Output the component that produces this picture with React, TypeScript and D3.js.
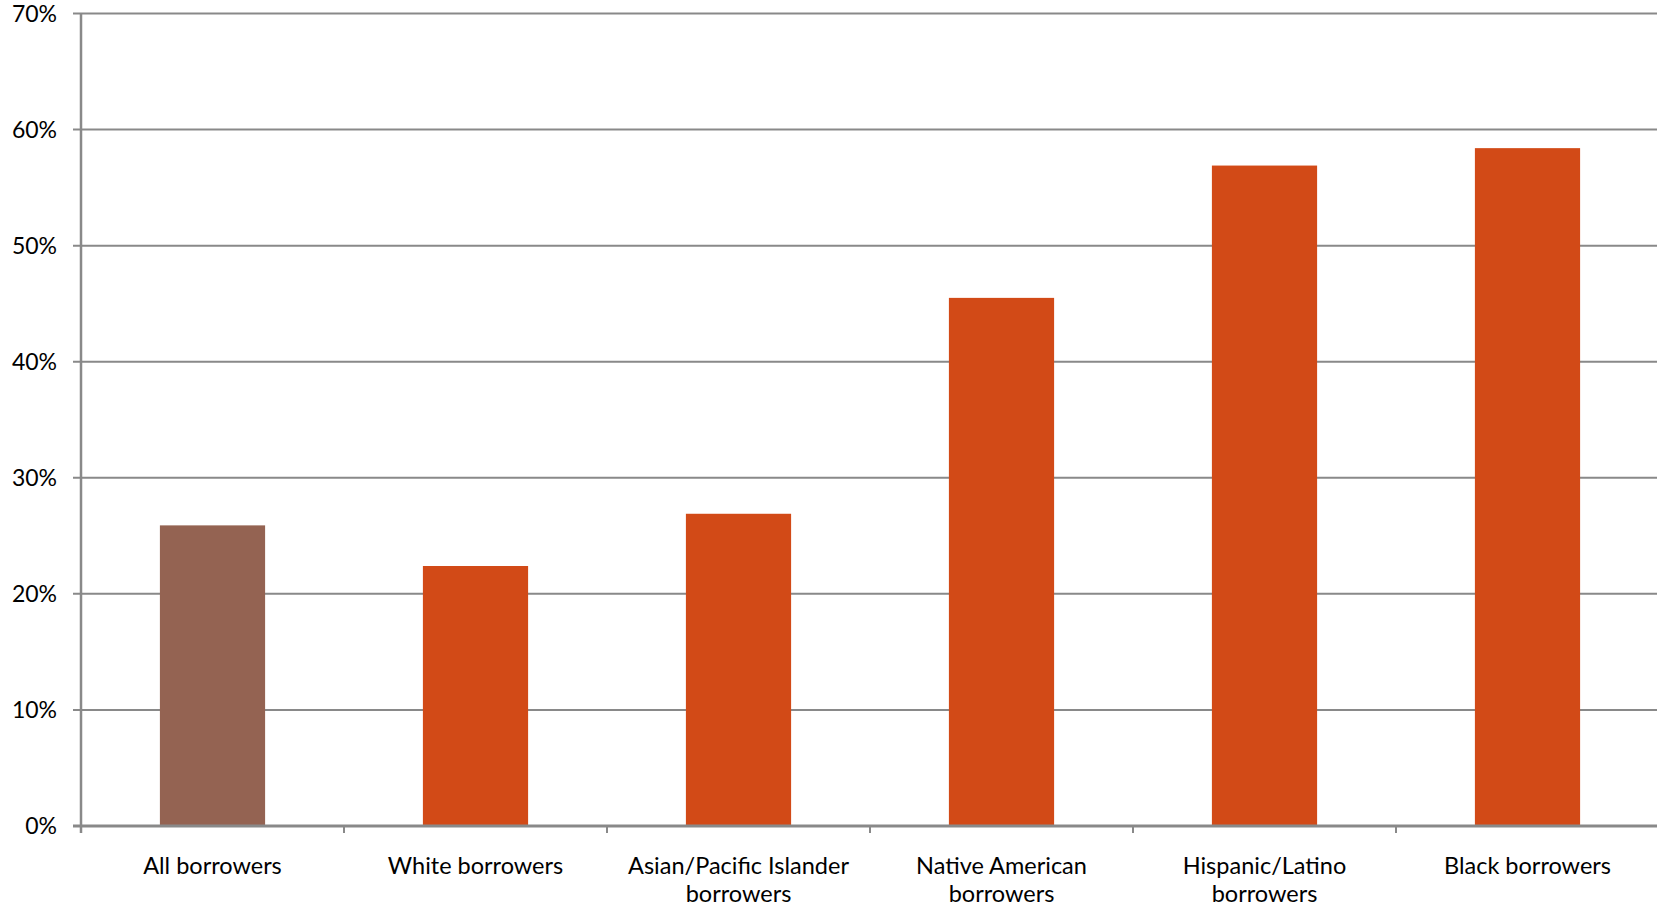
import React, { useEffect, useRef } from "react";
import * as d3 from "d3";

const categories = [
  "All borrowers",
  "White borrowers",
  "Asian/Pacific Islander borrowers",
  "Native American borrowers",
  "Hispanic/Latino borrowers",
  "Black borrowers",
];
const values = [0.259, 0.224, 0.269, 0.455, 0.569, 0.584];
const barColors = ["#946352", "#D24A17", "#D24A17", "#D24A17", "#D24A17", "#D24A17"];
const yTicks = [0, 0.1, 0.2, 0.3, 0.4, 0.5, 0.6, 0.7];

const W = 1657;
const H = 905;
const FONT = "Lato, 'DejaVu Sans', sans-serif";

export default function App() {
  const ref = useRef<SVGSVGElement | null>(null);

  useEffect(() => {
    const svg = d3.select(ref.current);
    svg.selectAll("*").remove();
    const left = 81;
    const right = 1659;
    const top = 13.5;
    const bottom = 826;

    const x = d3.scaleBand<string>().domain(categories).range([left, right]).paddingInner(0.6).paddingOuter(0.3);
    const xOuter = d3.scaleBand<string>().domain(categories).range([left, right]);
    const y = d3.scaleLinear().domain([0, 0.7]).range([bottom, top]);

    const grid = svg.append("g");
    yTicks.forEach((t) => {
      grid
        .append("line")
        .attr("x1", left - 8)
        .attr("x2", W)
        .attr("y1", y(t))
        .attr("y2", y(t))
        .attr("stroke", "#898989")
        .attr("stroke-width", 2);
      grid
        .append("text")
        .attr("x", 57)
        .attr("y", y(t))
        .attr("dy", "0.36em")
        .attr("text-anchor", "end")
        .attr("font-family", FONT)
        .attr("font-size", 23)
        .attr("fill", "#000")
        .text(d3.format(".0%")(t));
    });

    svg
      .append("g")
      .selectAll("rect")
      .data(values)
      .join("rect")
      .attr("x", (_, i) => x(categories[i])!)
      .attr("width", x.bandwidth())
      .attr("y", (d) => y(d))
      .attr("height", (d) => bottom - y(d))
      .attr("fill", (_, i) => barColors[i]);

    svg
      .append("line")
      .attr("x1", left)
      .attr("x2", left)
      .attr("y1", top)
      .attr("y2", bottom + 7)
      .attr("stroke", "#898989")
      .attr("stroke-width", 2.5);
    svg
      .append("line")
      .attr("x1", left - 8)
      .attr("x2", W)
      .attr("y1", bottom)
      .attr("y2", bottom)
      .attr("stroke", "#898989")
      .attr("stroke-width", 3);
    categories.forEach((c) => {
      const xx = xOuter(c)! + xOuter.bandwidth();
      svg
        .append("line")
        .attr("x1", xx)
        .attr("x2", xx)
        .attr("y1", bottom)
        .attr("y2", bottom + 7)
        .attr("stroke", "#898989")
        .attr("stroke-width", 2);
    });

    const maxW = 245;
    categories.forEach((c) => {
      const cx = xOuter(c)! + xOuter.bandwidth() / 2;
      const t = svg
        .append("text")
        .attr("x", cx)
        .attr("y", 874)
        .attr("text-anchor", "middle")
        .attr("font-family", FONT)
        .attr("font-size", 23.5)
        .attr("fill", "#000");
      const words = c.split(" ");
      let line: string[] = [];
      let lineNo = 0;
      let tspan = t.append("tspan").attr("x", cx).attr("y", 874);
      words.forEach((w) => {
        line.push(w);
        tspan.text(line.join(" "));
        if ((tspan.node() as SVGTSpanElement).getComputedTextLength() > maxW && line.length > 1) {
          line.pop();
          tspan.text(line.join(" "));
          line = [w];
          lineNo++;
          tspan = t.append("tspan").attr("x", cx).attr("y", 874 + lineNo * 28).text(w);
        }
      });
    });
  }, []);

  return (
    <svg
      ref={ref}
      width={W}
      height={H}
      style={{ position: "absolute", left: 0, top: 0, background: "#fff" }}
    />
  );
}
